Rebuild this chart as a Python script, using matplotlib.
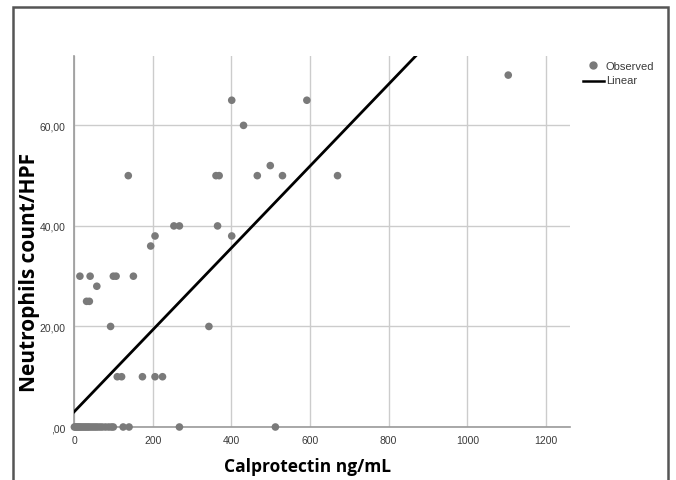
import matplotlib
matplotlib.use("Agg")
import matplotlib.pyplot as plt
from matplotlib.patches import Rectangle
from matplotlib.lines import Line2D

# ---- data ----
calprotectin = [
    # zero-neutrophil cluster
    1, 4, 7, 10, 13, 16, 20, 24, 28, 32, 36, 40, 45, 50, 55, 60, 66, 72, 80, 88, 95, 100,
    125, 140, 268, 512,
    # non-zero
    110, 121, 174, 206, 225,
    93, 343,
    32, 39,
    58,
    15, 41, 100, 107, 151,
    195, 206, 401,
    254, 268, 365,
    138, 361, 369, 466, 530, 670,
    499,
    431,
    401, 592,
    1104,
]
neutrophils = [
    0, 0, 0, 0, 0, 0, 0, 0, 0, 0, 0, 0, 0, 0, 0, 0, 0, 0, 0, 0, 0, 0,
    0, 0, 0, 0,
    10, 10, 10, 10, 10,
    20, 20,
    25, 25,
    28,
    30, 30, 30, 30, 30,
    36, 38, 38,
    40, 40, 40,
    50, 50, 50, 50, 50, 50,
    52,
    60,
    65, 65,
    70,
]
fit_intercept = 3.0
fit_slope = 0.0815

x_ticks = [0, 200, 400, 600, 800, 1000, 1200]
x_ticklabels = ["0", "200", "400", "600", "800", "1000", "1200"]
y_ticks = [0, 20, 40, 60]
y_ticklabels = [",00", "20,00", "40,00", "60,00"]

x_label = "Calprotectin ng/mL"
y_label = "Neutrophils count/HPF"
legend_labels = ["Observed", "Linear"]

# ---- figure ----
W, H = 676, 481
fig = plt.figure(figsize=(W / 100, H / 100), dpi=100)
fig.patch.set_facecolor("white")

ax = fig.add_axes([74 / W, 1 - 428 / H, (570 - 74) / W, (428 - 57) / H])
xmax, ymax = 1261, 73.8
ax.set_xlim(0, xmax)
ax.set_ylim(0, ymax)

ax.grid(True, color="#cccccc", linewidth=1.0)
ax.set_axisbelow(True)
for s in ["top", "right"]:
    ax.spines[s].set_visible(False)
for s in ["left", "bottom"]:
    ax.spines[s].set_color("#9a9a9a")
    ax.spines[s].set_linewidth(1.2)

ax.set_xticks(x_ticks)
ax.set_xticklabels(x_ticklabels)
ax.set_yticks(y_ticks)
ax.set_yticklabels(y_ticklabels)
ax.tick_params(length=0, labelsize=7.5, labelcolor="#3a3a3a", pad=6)
for t in ax.get_xticklabels() + ax.get_yticklabels():
    t.set_family("Liberation Sans")

ax.scatter(calprotectin, neutrophils, s=30, color="#7a7a7a", edgecolors="none",
           zorder=3, clip_on=False)

xs = [0, xmax]
ys = [fit_intercept + fit_slope * v for v in xs]
ax.plot(xs, ys, color="black", linewidth=2.0, zorder=4)

# legend
fig.add_artist(Line2D([593 / W], [1 - 66 / H], marker="o", markersize=5,
                      color="#7a7a7a", linestyle="none"))
fig.text(606 / W, 1 - 67 / H, legend_labels[0], fontsize=8, color="#3a3a3a",
         va="center", ha="left", family="Liberation Sans")
fig.add_artist(Line2D([583 / W, 604 / W], [1 - 82 / H, 1 - 82 / H],
                      color="black", linewidth=1.8))
fig.text(606 / W, 1 - 81 / H, legend_labels[1], fontsize=8, color="#3a3a3a",
         va="center", ha="left", family="Liberation Sans")

# axis labels
fig.text(307 / W, 1 - 467 / H, x_label, fontsize=12.5, fontweight="bold",
         ha="center", va="center", family="Open Sans")
fig.text(30 / W, 1 - 272 / H, y_label, fontsize=15, fontweight="bold",
         ha="center", va="center", rotation=90, family="Open Sans")

# outer frame
fig.add_artist(Rectangle((13 / W, -0.05), (668 - 13) / W, 1 - 8 / H + 0.05,
                         transform=fig.transFigure, fill=False,
                         edgecolor="#555555", linewidth=1.8))

fig.savefig("out.png", dpi=100)
